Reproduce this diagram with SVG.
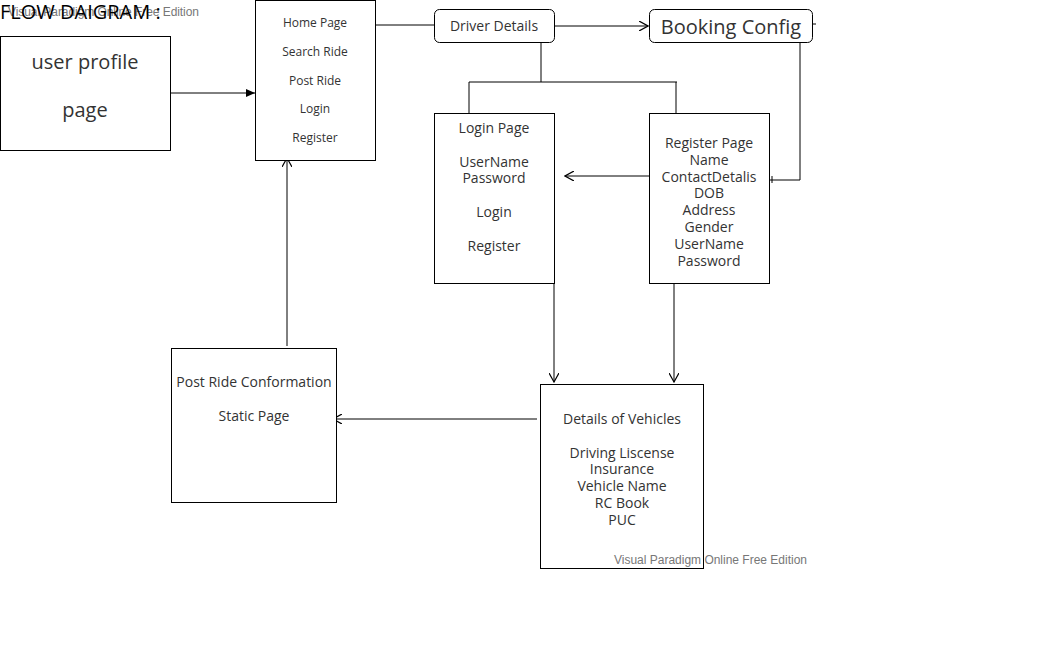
<svg xmlns="http://www.w3.org/2000/svg" width="1042" height="665" viewBox="0 0 1042 665">
<defs>
<style>
.box{fill:#fff;stroke:#000;stroke-width:1}
.ln{fill:none;stroke:#000;stroke-width:1}
.t{font-family:"Open Sans","Noto Sans",sans-serif;fill:#333;text-anchor:middle}
.s12{font-size:12px}
.s14{font-size:14px}
.s20{font-size:20px}
.wm{font-family:"Liberation Sans",Arial,sans-serif;font-size:12px;fill:#777}
</style>
<marker id="open" viewBox="0 0 10 10" refX="9" refY="5" markerWidth="10" markerHeight="10" markerUnits="userSpaceOnUse" orient="auto">
<path d="M0,0 L9,5 L0,10" fill="none" stroke="#000" stroke-width="1.2"/>
</marker>
<marker id="fill" viewBox="0 0 10 10" refX="9" refY="5" markerWidth="10" markerHeight="10" markerUnits="userSpaceOnUse" orient="auto">
<path d="M0,1 L9,5 L0,9 Z" fill="#000"/>
</marker>
</defs>
<rect width="1042" height="665" fill="#fff"/>
<text class="wm" x="8" y="16" textLength="191">Visual Paradigm Online Free Edition</text>
<text x="0" y="19" font-family="'Open Sans','Noto Sans',sans-serif" font-size="20" fill="#000">FLOW DAIGRAM :</text>

<g id="connectors">
<line class="ln" x1="171" y1="93" x2="255" y2="93" marker-end="url(#fill)"/>
<line class="ln" x1="375" y1="25" x2="434" y2="25"/>
<line class="ln" x1="554" y1="26" x2="648" y2="26" marker-end="url(#open)"/>
<line class="ln" x1="812" y1="24" x2="816" y2="24"/>
<polyline class="ln" points="800,43 800,180 770,180"/>
<line class="ln" x1="772" y1="176" x2="772" y2="183"/>
<line class="ln" x1="541" y1="43" x2="541" y2="82"/>
<polyline class="ln" points="469,113 469,82 677,82"/>
<line class="ln" x1="676" y1="82" x2="676" y2="113"/>
<line class="ln" x1="649" y1="176" x2="565" y2="176" marker-end="url(#open)"/>
<line class="ln" x1="554" y1="281" x2="554" y2="382" marker-end="url(#open)"/>
<line class="ln" x1="674" y1="281" x2="674" y2="382" marker-end="url(#open)"/>
<line class="ln" x1="537" y1="419" x2="333" y2="419" marker-end="url(#open)"/>
<line class="ln" x1="287" y1="346" x2="287" y2="158" marker-end="url(#open)"/>
</g>

<g id="user-profile">
<rect class="box" x="0.5" y="36.5" width="170" height="114"/>
<text class="t s20" x="85" y="69">user profile</text>
<text class="t s20" x="85" y="117">page</text>
</g>

<g id="menu">
<rect class="box" x="255.5" y="0.5" width="120" height="160"/>
<text class="t s12" x="315" y="27">Home Page</text>
<text class="t s12" x="315" y="56">Search Ride</text>
<text class="t s12" x="315" y="85">Post Ride</text>
<text class="t s12" x="315" y="113">Login</text>
<text class="t s12" x="315" y="142">Register</text>
</g>

<g id="driver-details">
<rect class="box" x="434.5" y="9.5" width="120" height="33" rx="5"/>
<text class="t s14" x="494" y="31">Driver Details</text>
</g>

<g id="booking-config">
<rect class="box" x="649.5" y="9.5" width="163" height="33" rx="5"/>
<text class="t s20" x="731" y="34">Booking Config</text>
</g>

<g id="login-page">
<rect class="box" x="434.5" y="113.5" width="120" height="170"/>
<text class="t s14" x="494" y="133">Login Page</text>
<text class="t s14" x="494" y="167">UserName</text>
<text class="t s14" x="494" y="183">Password</text>
<text class="t s14" x="494" y="217">Login</text>
<text class="t s14" x="494" y="251">Register</text>
</g>

<g id="register-page">
<rect class="box" x="649.5" y="113.5" width="120" height="170"/>
<text class="t s14" x="709" y="148">Register Page</text>
<text class="t s14" x="709" y="165">Name</text>
<text class="t s14" x="709" y="182">ContactDetalis</text>
<text class="t s14" x="709" y="198">DOB</text>
<text class="t s14" x="709" y="215">Address</text>
<text class="t s14" x="709" y="232">Gender</text>
<text class="t s14" x="709" y="249">UserName</text>
<text class="t s14" x="709" y="266">Password</text>
</g>

<g id="vehicle-details">
<rect class="box" x="540.5" y="384.5" width="163" height="184"/>
<text class="t s14" x="622" y="424">Details of Vehicles</text>
<text class="t s14" x="622" y="458">Driving Liscense</text>
<text class="t s14" x="622" y="474">Insurance</text>
<text class="t s14" x="622" y="491">Vehicle Name</text>
<text class="t s14" x="622" y="508">RC Book</text>
<text class="t s14" x="622" y="525">PUC</text>
</g>

<g id="post-ride-confirmation">
<rect class="box" x="171.5" y="348.5" width="165" height="154"/>
<text class="t s14" x="254" y="387">Post Ride Conformation</text>
<text class="t s14" x="254" y="421">Static Page</text>
</g>

<text class="wm" x="614" y="564" textLength="193">Visual Paradigm Online Free Edition</text>
</svg>
